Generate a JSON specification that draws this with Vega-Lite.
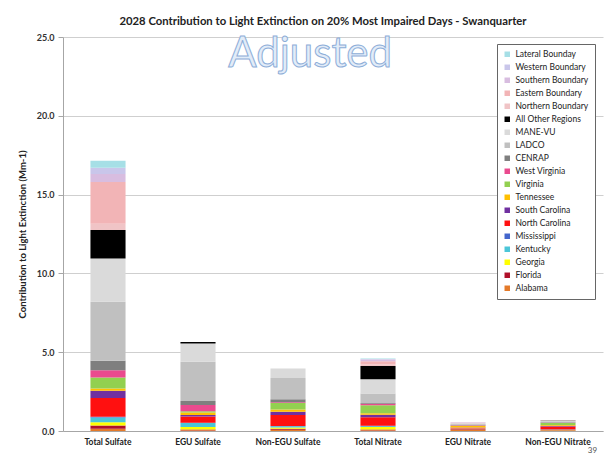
{
  "$schema": "https://vega.github.io/schema/vega-lite/v6.json",
  "width": 540,
  "height": 394,
  "autosize": {"type": "none"},
  "padding": {"left": 63, "top": 37, "right": 2, "bottom": 25},
  "background": "white",
  "config": {"font": "Lato", "view": {"stroke": null}},
  "title": {"text": "2028 Contribution to Light Extinction on 20% Most Impaired Days - Swanquarter", "fontSize": 11.3, "fontWeight": "bold", "color": "#222222", "offset": 6, "anchor": "middle", "font": "Lato", "dx": -10},
  "layer": [
    {
      "data": {"values": [
        {"category": "Total Sulfate", "source": "Alabama", "value": 0.15},
        {"category": "Total Sulfate", "source": "Florida", "value": 0.2},
        {"category": "Total Sulfate", "source": "Georgia", "value": 0.2},
        {"category": "Total Sulfate", "source": "Kentucky", "value": 0.3},
        {"category": "Total Sulfate", "source": "Mississippi", "value": 0.05},
        {"category": "Total Sulfate", "source": "North Carolina", "value": 1.2},
        {"category": "Total Sulfate", "source": "South Carolina", "value": 0.45},
        {"category": "Total Sulfate", "source": "Tennessee", "value": 0.15},
        {"category": "Total Sulfate", "source": "Virginia", "value": 0.7},
        {"category": "Total Sulfate", "source": "West Virginia", "value": 0.45},
        {"category": "Total Sulfate", "source": "CENRAP", "value": 0.6},
        {"category": "Total Sulfate", "source": "LADCO", "value": 3.75},
        {"category": "Total Sulfate", "source": "MANE-VU", "value": 2.75},
        {"category": "Total Sulfate", "source": "All Other Regions", "value": 1.8},
        {"category": "Total Sulfate", "source": "Northern Boundary", "value": 0.4},
        {"category": "Total Sulfate", "source": "Eastern Boundary", "value": 2.65},
        {"category": "Total Sulfate", "source": "Southern Boundary", "value": 0.5},
        {"category": "Total Sulfate", "source": "Western Boundary", "value": 0.4},
        {"category": "Total Sulfate", "source": "Lateral Bounday", "value": 0.45},

        {"category": "EGU Sulfate", "source": "Alabama", "value": 0.05},
        {"category": "EGU Sulfate", "source": "Florida", "value": 0.05},
        {"category": "EGU Sulfate", "source": "Georgia", "value": 0.15},
        {"category": "EGU Sulfate", "source": "Kentucky", "value": 0.25},
        {"category": "EGU Sulfate", "source": "Mississippi", "value": 0.02},
        {"category": "EGU Sulfate", "source": "North Carolina", "value": 0.4},
        {"category": "EGU Sulfate", "source": "South Carolina", "value": 0.1},
        {"category": "EGU Sulfate", "source": "Tennessee", "value": 0.15},
        {"category": "EGU Sulfate", "source": "Virginia", "value": 0.08},
        {"category": "EGU Sulfate", "source": "West Virginia", "value": 0.4},
        {"category": "EGU Sulfate", "source": "CENRAP", "value": 0.25},
        {"category": "EGU Sulfate", "source": "LADCO", "value": 2.5},
        {"category": "EGU Sulfate", "source": "MANE-VU", "value": 1.15},
        {"category": "EGU Sulfate", "source": "All Other Regions", "value": 0.1},

        {"category": "Non-EGU Sulfate", "source": "Alabama", "value": 0.08},
        {"category": "Non-EGU Sulfate", "source": "Florida", "value": 0.07},
        {"category": "Non-EGU Sulfate", "source": "Georgia", "value": 0.08},
        {"category": "Non-EGU Sulfate", "source": "Kentucky", "value": 0.07},
        {"category": "Non-EGU Sulfate", "source": "Mississippi", "value": 0.02},
        {"category": "Non-EGU Sulfate", "source": "North Carolina", "value": 0.7},
        {"category": "Non-EGU Sulfate", "source": "South Carolina", "value": 0.2},
        {"category": "Non-EGU Sulfate", "source": "Tennessee", "value": 0.15},
        {"category": "Non-EGU Sulfate", "source": "Virginia", "value": 0.4},
        {"category": "Non-EGU Sulfate", "source": "West Virginia", "value": 0.05},
        {"category": "Non-EGU Sulfate", "source": "CENRAP", "value": 0.2},
        {"category": "Non-EGU Sulfate", "source": "LADCO", "value": 1.35},
        {"category": "Non-EGU Sulfate", "source": "MANE-VU", "value": 0.6},

        {"category": "Total Nitrate", "source": "Alabama", "value": 0.05},
        {"category": "Total Nitrate", "source": "Florida", "value": 0.05},
        {"category": "Total Nitrate", "source": "Georgia", "value": 0.15},
        {"category": "Total Nitrate", "source": "Kentucky", "value": 0.05},
        {"category": "Total Nitrate", "source": "Mississippi", "value": 0.03},
        {"category": "Total Nitrate", "source": "North Carolina", "value": 0.55},
        {"category": "Total Nitrate", "source": "South Carolina", "value": 0.15},
        {"category": "Total Nitrate", "source": "Tennessee", "value": 0.1},
        {"category": "Total Nitrate", "source": "Virginia", "value": 0.5},
        {"category": "Total Nitrate", "source": "West Virginia", "value": 0.1},
        {"category": "Total Nitrate", "source": "CENRAP", "value": 0.05},
        {"category": "Total Nitrate", "source": "LADCO", "value": 0.6},
        {"category": "Total Nitrate", "source": "MANE-VU", "value": 0.9},
        {"category": "Total Nitrate", "source": "All Other Regions", "value": 0.85},
        {"category": "Total Nitrate", "source": "Northern Boundary", "value": 0.1},
        {"category": "Total Nitrate", "source": "Eastern Boundary", "value": 0.2},
        {"category": "Total Nitrate", "source": "Southern Boundary", "value": 0.1},
        {"category": "Total Nitrate", "source": "Western Boundary", "value": 0.04},
        {"category": "Total Nitrate", "source": "Lateral Bounday", "value": 0.03},

        {"category": "EGU Nitrate", "source": "Alabama", "value": 0.1},
        {"category": "EGU Nitrate", "source": "Florida", "value": 0.02},
        {"category": "EGU Nitrate", "source": "Georgia", "value": 0.02},
        {"category": "EGU Nitrate", "source": "Kentucky", "value": 0.02},
        {"category": "EGU Nitrate", "source": "North Carolina", "value": 0.04},
        {"category": "EGU Nitrate", "source": "South Carolina", "value": 0.02},
        {"category": "EGU Nitrate", "source": "Tennessee", "value": 0.1},
        {"category": "EGU Nitrate", "source": "Virginia", "value": 0.02},
        {"category": "EGU Nitrate", "source": "West Virginia", "value": 0.02},
        {"category": "EGU Nitrate", "source": "CENRAP", "value": 0.03},
        {"category": "EGU Nitrate", "source": "LADCO", "value": 0.06},
        {"category": "EGU Nitrate", "source": "MANE-VU", "value": 0.04},
        {"category": "EGU Nitrate", "source": "Eastern Boundary", "value": 0.04},
        {"category": "EGU Nitrate", "source": "Southern Boundary", "value": 0.02},

        {"category": "Non-EGU Nitrate", "source": "Alabama", "value": 0.02},
        {"category": "Non-EGU Nitrate", "source": "Florida", "value": 0.03},
        {"category": "Non-EGU Nitrate", "source": "Georgia", "value": 0.02},
        {"category": "Non-EGU Nitrate", "source": "Kentucky", "value": 0.02},
        {"category": "Non-EGU Nitrate", "source": "North Carolina", "value": 0.2},
        {"category": "Non-EGU Nitrate", "source": "South Carolina", "value": 0.04},
        {"category": "Non-EGU Nitrate", "source": "Tennessee", "value": 0.05},
        {"category": "Non-EGU Nitrate", "source": "Virginia", "value": 0.12},
        {"category": "Non-EGU Nitrate", "source": "West Virginia", "value": 0.02},
        {"category": "Non-EGU Nitrate", "source": "CENRAP", "value": 0.03},
        {"category": "Non-EGU Nitrate", "source": "LADCO", "value": 0.07},
        {"category": "Non-EGU Nitrate", "source": "MANE-VU", "value": 0.05},
        {"category": "Non-EGU Nitrate", "source": "All Other Regions", "value": 0.02},
        {"category": "Non-EGU Nitrate", "source": "Eastern Boundary", "value": 0.01}
      ]},
      "transform": [
        {"calculate": "indexof(['Alabama','Florida','Georgia','Kentucky','Mississippi','North Carolina','South Carolina','Tennessee','Virginia','West Virginia','CENRAP','LADCO','MANE-VU','All Other Regions','Northern Boundary','Eastern Boundary','Southern Boundary','Western Boundary','Lateral Bounday'], datum.source)", "as": "stackRank"}
      ],
      "mark": {"type": "bar"},
      "encoding": {
        "x": {
          "field": "category", "type": "nominal",
          "sort": ["Total Sulfate", "EGU Sulfate", "Non-EGU Sulfate", "Total Nitrate", "EGU Nitrate", "Non-EGU Nitrate"],
          "scale": {"paddingInner": 0.61, "paddingOuter": 0.305},
          "axis": {"title": null, "labelAngle": 0, "labelFontSize": 8.5, "labelFontWeight": "bold", "labelColor": "#222222", "domainColor": "#a6a6a6", "ticks": false, "labelPadding": 6, "labelFont": "Lato"}
        },
        "y": {
          "field": "value", "type": "quantitative", "stack": "zero",
          "scale": {"domain": [0, 25], "nice": false},
          "axis": {"title": "Contribution to Light Extinction (Mm-1)", "titleFontSize": 9.5, "titleFontWeight": "bold", "titleColor": "#222222", "titleFont": "Lato", "values": [0, 5, 10, 15, 20, 25], "format": ".1f", "labelFontSize": 9, "labelFontWeight": "bold", "labelColor": "#333333", "labelFont": "Lato", "domainColor": "#a6a6a6", "tickColor": "#a6a6a6", "tickSize": 5, "gridColor": "#cfcfcf", "titlePadding": 9, "labelPadding": 4}
        },
        "order": {"field": "stackRank", "type": "quantitative", "sort": "ascending"},
        "color": {
          "field": "source", "type": "nominal",
          "sort": ["Lateral Bounday", "Western Boundary", "Southern Boundary", "Eastern Boundary", "Northern Boundary", "All Other Regions", "MANE-VU", "LADCO", "CENRAP", "West Virginia", "Virginia", "Tennessee", "South Carolina", "North Carolina", "Mississippi", "Kentucky", "Georgia", "Florida", "Alabama"],
          "scale": {
            "domain": ["Lateral Bounday", "Western Boundary", "Southern Boundary", "Eastern Boundary", "Northern Boundary", "All Other Regions", "MANE-VU", "LADCO", "CENRAP", "West Virginia", "Virginia", "Tennessee", "South Carolina", "North Carolina", "Mississippi", "Kentucky", "Georgia", "Florida", "Alabama"],
            "range": ["#a6dfe6", "#c9c6ea", "#d8bde0", "#f2b4b6", "#f0c4c6", "#000000", "#dadada", "#c0c0c0", "#7f7f7f", "#ea4a8e", "#92d050", "#ffc000", "#7030a0", "#ff1010", "#4466cc", "#4bc6d8", "#ffff00", "#b0102a", "#e47a2a"]
          },
          "legend": {"title": null, "orient": "none", "legendX": 434, "legendY": 7, "strokeColor": "#666666", "fillColor": "white", "padding": 6, "labelFontSize": 8.5, "labelFont": "Lato", "labelColor": "#222222", "symbolType": "square", "symbolSize": 30, "symbolStrokeWidth": 0, "rowPadding": 4, "labelLimit": 200}
        }
      }
    },
    {
      "data": {"values": [{"t": "Adjusted"}]},
      "mark": {"type": "text", "fontSize": 42, "font": "Lato", "fill": "#e2ecf8", "stroke": "#8eaed8", "strokeWidth": 1, "align": "center", "baseline": "middle"},
      "encoding": {
        "x": {"datum": "Non-EGU Sulfate", "bandPosition": 1.13},
        "y": {"datum": 23.9},
        "text": {"field": "t"}
      }
    },
    {
      "data": {"values": [{"t": "39"}]},
      "mark": {"type": "text", "fontSize": 8, "font": "Lato", "color": "#555555", "align": "left", "baseline": "middle"},
      "encoding": {
        "x": {"datum": "Non-EGU Nitrate", "bandPosition": 1.35},
        "y": {"datum": -1.3},
        "text": {"field": "t"}
      }
    }
  ]
}
